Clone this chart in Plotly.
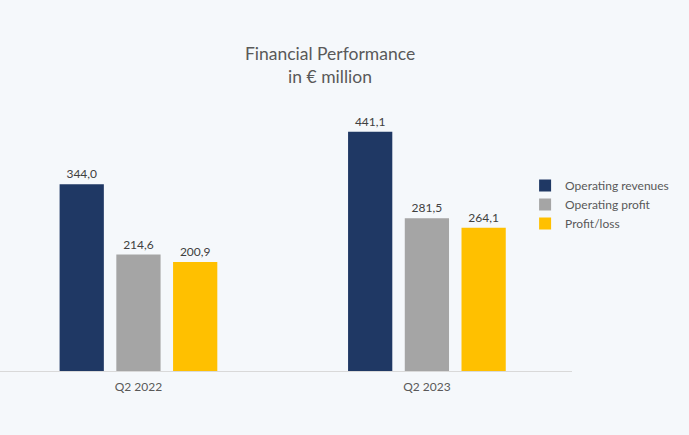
import plotly.graph_objects as go

categories = ["Q2 2022", "Q2 2023"]
series_names = ["Operating revenues", "Operating profit", "Profit/loss"]
operating_revenues = [344.0, 441.1]
operating_profit = [214.6, 281.5]
profit_loss = [200.9, 264.1]
colors = ["#1f3864", "#a5a5a5", "#ffc000"]
BG = "#f5f8fb"

fig = go.Figure()
for name, vals, col in zip(series_names, [operating_revenues, operating_profit, profit_loss], colors):
    fig.add_trace(go.Bar(
        name=name, x=categories, y=vals,
        marker=dict(color=col, line=dict(width=0)),
        texttemplate="%{y:.1f}", textposition="outside",
        textfont=dict(family="Lato", size=12, color="#404040"),
        cliponaxis=False,
    ))

fig.update_layout(
    width=689, height=435,
    separators=",.",
    paper_bgcolor=BG, plot_bgcolor=BG,
    margin=dict(l=0, r=117, t=100, b=64, autoexpand=False),
    barmode="group", bargap=0.41, bargroupgap=0.22,
    font=dict(family="Lato", color="#595959"),
    title=dict(text="Financial Performance<br>in € million", x=0.479, xanchor="center",
               y=0.862, yanchor="middle",
               font=dict(family="Lato", size=17.5, color="#595959")),
    xaxis=dict(range=[-0.48, 1.503], showline=True, linecolor="#d9d9d9", linewidth=1,
               ticks="", tickfont=dict(size=12, color="#595959"), showgrid=False,
               ticklabelstandoff=5),
    yaxis=dict(range=[0, 499.4], visible=False, showgrid=False, zeroline=False),
    legend=dict(x=0.918, xanchor="left", y=0.738, yanchor="top",
                font=dict(size=12, color="#595959"), itemwidth=30,
                bgcolor="rgba(0,0,0,0)"),
    showlegend=True,
)

fig.write_html("out.html",
               config={"displayModeBar": False},
               post_script="document.body.style.margin='0';document.body.style.background='%s';" % BG)
